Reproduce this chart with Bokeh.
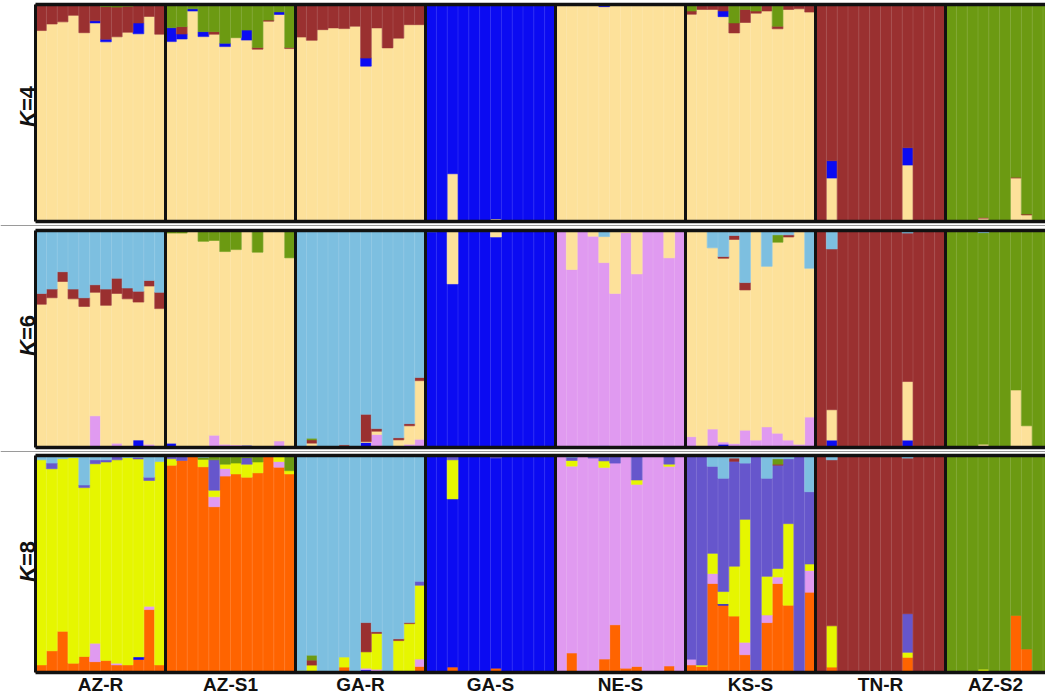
import numpy as np
from bokeh.plotting import figure
from bokeh.models import Range1d, Label
from bokeh.embed import file_html
from bokeh.resources import INLINE

# ---------------- data ----------------
POPS = ["AZ-R", "AZ-S1", "GA-R", "GA-S", "NE-S", "KS-S", "TN-R", "AZ-S2"]
N_PER = 12
ROW_LABELS = [("K", "=4"), ("K", "=6"), ("K", "=8")]

COLORS = {
    "T": "#FDE19A",  # tan
    "R": "#9A3030",  # dark red
    "G": "#6C9A12",  # olive green
    "B": "#0B0BF2",  # blue
    "L": "#7DBFE0",  # light blue
    "P": "#E09AF0",  # pink / lilac
    "Y": "#E6F600",  # yellow
    "O": "#FF6400",  # orange
    "S": "#6656CC",  # slate blue
}

# ---- K=4 (stack order bottom->top: T, B, R, G); main cluster gets the remainder
K4_ORDER = ["T", "B", "R", "G"]
K4_MAIN = ["T", "T", "T", "B", "T", "T", "R", "G"]
K4_T = [0] * 12 + [0] * 12 + [0] * 12 + \
    [.005, 0, .22, 0, .005, .005, .012, 0, 0, 0, 0, 0] + \
    [0] * 12 + [0] * 12 + \
    [0, .2, 0, 0, 0, 0, 0, 0, .26, .003, .003, .003] + \
    [.003, 0, 0, .015, 0, 0, .2, .03, 0, 0, 0, 0]
K4_B = [0, 0, 0, 0, 0, .01, .012, 0, 0, .05, 0, 0] + \
    [.064, .023, .01, .023, 0, .015, 0, .046, 0, 0, .012, 0] + \
    [0, 0, 0, 0, 0, 0, .037, 0, 0, 0, 0, 0] + \
    [0] * 12 + \
    [0, 0, 0, 0, .01, 0, 0, 0, 0, 0, 0, 0] + \
    [0, 0, 0, .026, 0, 0, 0, 0, 0, 0, 0, 0] + \
    [0, .08, 0, 0, 0, 0, 0, 0, .08, 0, 0, 0] + \
    [0] * 12
K4_R = [.12, .09, .08, .05, .125, .075, .15, .137, .12, .085, .05, .137] + \
    [0, .034, 0, 0, .012, 0, 0, 0, .008, .005, 0, .005] + \
    [.15, .165, .116, .108, .111, .10, .247, .108, .20, .155, .093, .093] + \
    [0] * 12 + \
    [.004, .004, .004, 0, 0, .004, .004, 0, .004, 0, 0, 0] + \
    [.015, .023, .023, .03, .046, .06, .01, .03, .012, .023, .02, .035] + \
    [0] * 12 + \
    [0, 0, 0, .004, 0, 0, .004, .004, 0, 0, 0, 0]
K4_G = [0, 0, 0, 0, .005, 0, .01, .012, .008, 0, .005, 0] + \
    [.107, .102, .02, .125, .125, .179, .153, .118, .198, .072, .034, .198] + \
    [0] * 12 + [0] * 12 + [0] * 12 + \
    [.03, 0, 0, 0, .085, .023, .03, 0, .1, 0, 0, 0] + \
    [0] * 12 + [0] * 12

# ---- K=6 (stack order bottom->top: B, P, T, R, G, L)
K6_ORDER = ["B", "P", "T", "R", "G", "L"]
K6_MAIN = ["T", "T", "L", "B", "P", "T", "R", "G"]
K6_B = [0, 0, 0, 0, 0, 0, 0, 0, 0, .034, 0, 0] + \
    [.02, 0, 0, .005, 0, 0, 0, .01, 0, 0, 0, 0] + \
    [0, 0, 0, 0, 0, 0, .023, 0, 0, 0, 0, 0] + \
    [0] * 12 + \
    [0, 0, 0, 0, .008, 0, 0, 0, 0, 0, 0, 0] + \
    [0, 0, 0, .015, 0, 0, 0, 0, 0, 0, 0, 0] + \
    [0, .034, 0, 0, 0, 0, 0, 0, .034, 0, 0, 0] + \
    [0] * 12
K6_P = [0, 0, 0, 0, 0, .146, 0, .02, 0, 0, .015, 0] + \
    [0, 0, 0, 0, .057, .015, .012, 0, 0, 0, .03, 0] + \
    [0, 0, 0, 0, 0, 0, 0, .06, 0, .005, .015, .038] + \
    [0] * 12 + [0] * 12 + \
    [.05, 0, .085, .01, .018, .08, .034, .095, .066, .034, .015, .14] + \
    [0] * 12 + [0] * 12
K6_T = [0] * 12 + [0] * 12 + \
    [.004, .02, 0, 0, .008, 0, .004, .015, 0, .03, .085, .27] + \
    [0, 0, .246, 0, 0, 0, .03, 0, 0, 0, 0, 0] + \
    [0, .18, 0, .026, .12, .29, .01, .2, 0, 0, .126, 0] + \
    [0] * 12 + \
    [0, .14, 0, 0, 0, 0, 0, 0, .27, 0, 0, 0] + \
    [0, 0, 0, .015, 0, .005, .265, .1, 0, 0, 0, 0]
K6_R = [.05, .04, .045, .045, .04, .035, .075, .07, .05, .05, .026, .075] + \
    [0] * 12 + \
    [0, .015, 0, 0, .005, 0, .126, .012, 0, .01, .01, .015] + \
    [0] * 12 + [0] * 12 + \
    [0, 0, 0, .008, .018, .034, 0, 0, 0, .01, 0, 0] + \
    [0] * 12 + [0] * 12
K6_G = [0] * 12 + \
    [.012, .012, 0, .05, .046, .097, .088, 0, .1, 0, 0, .126] + \
    [0, .008, 0, 0, 0, 0, 0, 0, 0, 0, 0, 0] + \
    [0] * 12 + [0] * 12 + \
    [0, 0, 0, 0, 0, 0, 0, 0, .034, 0, 0, 0] + \
    [0] * 12 + [0] * 12
K6_L = [.29, .27, .19, .27, .31, .25, .27, .22, .265, .28, .23, .285] + \
    [0] * 12 + [0] * 12 + \
    [.006, 0, 0, 0, .005, .005, 0, 0, 0, 0, 0, 0] + \
    [0, 0, 0, 0, .028, 0, 0, 0, 0, 0, 0, 0] + \
    [0, 0, .08, .12, .023, .24, 0, .165, .02, .02, 0, .174] + \
    [0, .085, 0, 0, 0, 0, 0, 0, .012, 0, 0, 0] + \
    [0, 0, 0, .01, 0, 0, 0, 0, 0, 0, 0, 0]

# ---- K=8 (stack order bottom->top: O, B, P, Y, S, R, G, L)
K8_ORDER = ["O", "B", "P", "Y", "S", "R", "G", "L"]
K8_MAIN = ["Y", "O", "L", "B", "P", "S", "R", "G"]
K8_O = [.035, .1, .19, .043, .074, .05, .055, .035, .035, .06, .29, .035] + \
    [0] * 12 + \
    [.004, .008, 0, 0, .025, 0, 0, 0, 0, 0, 0, .028] + \
    [.004, 0, .025, 0, 0, 0, .02, 0, 0, 0, 0, 0] + \
    [0, .09, .004, .008, .062, .22, .02, .028, 0, 0, .03, 0] + \
    [.035, .028, .41, .31, .26, .082, .012, .23, .41, .31, 0, .37] + \
    [0, .025, 0, 0, 0, 0, 0, 0, .07, 0, 0, 0] + \
    [0, 0, 0, 0, 0, .004, .263, .108, 0, 0, 0, 0]
K8_B = [0, 0, 0, 0, 0, 0, 0, 0, 0, .012, 0, 0] + \
    [0] * 12 + \
    [0, 0, 0, 0, 0, 0, .012, 0, 0, 0, 0, 0] + \
    [0] * 12 + [0] * 12 + \
    [0, 0, 0, .006, 0, 0, 0, 0, 0, 0, 0, 0] + \
    [0] * 12 + [0] * 12
K8_P = [0, 0, 0, 0, 0, .085, 0, .008, 0, 0, .015, 0] + \
    [0, 0, 0, 0, .046, .035, 0, 0, 0, 0, .026, 0] + \
    [0, 0, 0, 0, 0, 0, .008, .015, 0, 0, .005, .034] + \
    [0] * 12 + [0] * 12 + \
    [.026, 0, .046, 0, 0, .057, 0, .035, .03, 0, 0, .1] + \
    [0] * 12 + [0] * 12
K8_Y = [0] * 12 + \
    [.03, 0, 0, .034, .03, .02, .05, .06, .05, 0, .023, .015] + \
    [.005, .026, 0, 0, .046, 0, .075, .165, 0, .147, .22, .34] + \
    [0, 0, .18, 0, 0, 0, 0, 0, 0, 0, 0, 0] + \
    [0, .026, 0, 0, .03, 0, 0, .02, 0, 0, .01, 0] + \
    [0, .006, .093, .057, .23, .567, 0, .178, .039, .376, 0, .03] + \
    [0, .19, 0, 0, 0, 0, 0, 0, .023, 0, 0, 0] + \
    [0, 0, 0, .015, 0, 0, 0, 0, 0, 0, 0, 0]
K8_S = [0, .026, 0, 0, .012, .018, .01, .02, 0, .008, .015, 0] + \
    [.015, .023, 0, 0, .14, 0, 0, .03, 0, 0, 0, 0] + \
    [0, 0, 0, 0, 0, 0, 0, 0, 0, 0, 0, .018] + \
    [.005, 0, .02, 0, .005, .004, .012, 0, 0, 0, 0, 0] + \
    [0, .015, 0, .012, .025, .035, 0, .113, 0, 0, .04, 0] + \
    [0] * 12 + \
    [0, 0, 0, 0, 0, 0, 0, 0, .178, 0, 0, 0] + \
    [0] * 12
K8_R = [0] * 12 + [0] * 12 + \
    [0, .023, 0, 0, 0, 0, .135, .008, 0, .008, .005, 0] + \
    [0] * 12 + [0] * 12 + \
    [0, 0, 0, 0, .015, 0, 0, 0, .005, 0, 0, 0] + \
    [0] * 12 + [0] * 12
K8_G = [0] * 12 + \
    [0, 0, 0, .01, .02, .035, .035, .01, .03, 0, 0, .07] + \
    [0, .023, 0, 0, 0, 0, 0, 0, 0, 0, 0, 0] + \
    [0] * 12 + [0] * 12 + \
    [0, 0, 0, 0, 0, 0, 0, 0, .025, 0, 0, 0] + \
    [0] * 12 + [0] * 12
K8_L = [.02, .035, .015, .01, .136, .02, .02, 0, .01, .008, .1, .028] + \
    [0, 0, 0, .008, 0, .005, 0, 0, 0, 0, .005, 0] + \
    [0] * 12 + [0] * 12 + \
    [0, .008, 0, 0, 0, 0, 0, 0, 0, 0, 0, 0] + \
    [0, 0, .05, .105, .012, .035, 0, .105, .015, .015, 0, .167] + \
    [0, .02, 0, 0, 0, 0, 0, 0, .012, 0, 0, 0] + \
    [0, 0, 0, .005, 0, 0, 0, 0, 0, 0, 0, 0]

ROWS = [
    (K4_ORDER, K4_MAIN, {"T": K4_T, "B": K4_B, "R": K4_R, "G": K4_G}),
    (K6_ORDER, K6_MAIN, {"B": K6_B, "P": K6_P, "T": K6_T, "R": K6_R, "G": K6_G, "L": K6_L}),
    (K8_ORDER, K8_MAIN, {"O": K8_O, "B": K8_B, "P": K8_P, "Y": K8_Y, "S": K8_S,
                         "R": K8_R, "G": K8_G, "L": K8_L}),
]

# ---------------- layout ----------------
W, H = 1045, 699
PX_PER_BAR = 130 / 12.0
LEFT_PX = 35
X0 = -LEFT_PX / PX_PER_BAR
X1 = X0 + W / PX_PER_BAR
PX_PER_UNIT = 217.0
ROW_BOTTOM_PX = [221, 447, 672]          # pixel (from top) of each row's bottom edge
ROW_LABEL_CENTER_PX = [106, 335, 561]

n_tot = N_PER * len(POPS)
xs = np.arange(n_tot, dtype=float)

p = figure(width=W, height=H, x_range=Range1d(X0, X1), y_range=Range1d(0, H / PX_PER_UNIT),
           output_backend="svg", toolbar_location=None, min_border=0,
           x_axis_location=None, y_axis_location=None)
p.grid.visible = False
p.outline_line_color = None
p.background_fill_color = "white"
p.border_fill_color = "white"

x_end = min(X1, n_tot)

for r, (order, main, vals) in enumerate(ROWS):
    y0 = (H - ROW_BOTTOM_PX[r]) / PX_PER_UNIT
    arrs = {c: np.array(vals[c], dtype=float) for c in order}
    for pi, m in enumerate(main):
        sl = slice(pi * N_PER, (pi + 1) * N_PER)
        others = sum(arrs[c][sl] for c in order if c != m)
        arrs[m][sl] = 1.0 - others
    base = np.zeros(n_tot)
    for c in order:
        top = base + arrs[c]
        mask = arrs[c] > 0
        p.quad(left=xs[mask], right=xs[mask] + 1, bottom=y0 + base[mask], top=y0 + top[mask],
               fill_color=COLORS[c], line_color=COLORS[c], line_width=0.6)
        base = top
    # faint separators between individuals
    sep = [i for i in range(1, n_tot) if i % N_PER != 0 and i < x_end]
    p.segment(x0=sep, y0=[y0] * len(sep), x1=sep, y1=[y0 + 1] * len(sep),
              line_color="white", line_alpha=0.12, line_width=1)
    # population separators + left border
    vx = [i * N_PER for i in range(len(POPS)) if i * N_PER < x_end]
    p.segment(x0=vx, y0=[y0] * len(vx), x1=vx, y1=[y0 + 1] * len(vx),
              line_color="#111111", line_width=3)
    # top and bottom borders
    p.segment(x0=[0, 0], y0=[y0, y0 + 1], x1=[x_end, x_end], y1=[y0, y0 + 1],
              line_color="#111111", line_width=3.5)

    # row label: italic K + "=n", rotated
    k_txt, n_txt = ROW_LABELS[r]
    fs = 22
    wk, wn = 16.0, 25.0
    yc = H - ROW_LABEL_CENTER_PX[r]
    ystart = yc - (wk + wn) / 2
    p.add_layout(Label(x=27, y=ystart, x_units="screen", y_units="screen", text=k_txt,
                       angle=np.pi / 2, text_align="left", text_baseline="alphabetic",
                       text_font="Liberation Sans", text_font_size=f"{fs}px",
                       text_font_style="bold italic", text_color="#111111"))
    p.add_layout(Label(x=27, y=ystart + wk, x_units="screen", y_units="screen", text=n_txt,
                       angle=np.pi / 2, text_align="left", text_baseline="alphabetic",
                       text_font="Liberation Sans", text_font_size=f"{fs}px",
                       text_font_style="bold", text_color="#111111"))

# gray rules between rows
for py in (225, 451):
    p.segment(x0=[X0], y0=[(H - py) / PX_PER_UNIT], x1=[X1], y1=[(H - py) / PX_PER_UNIT],
              line_color="#9a9a9a", line_width=1)

# population labels
for i, name in enumerate(POPS):
    a = i * N_PER
    b = min((i + 1) * N_PER, x_end)
    p.add_layout(Label(x=(a + b) / 2, y=15, y_units="screen", text=name,
                       text_align="center", text_baseline="middle",
                       text_font="Liberation Sans", text_font_size="19px",
                       text_font_style="bold", text_color="#111111"))

open("out.html", "w").write(file_html(p, INLINE))
